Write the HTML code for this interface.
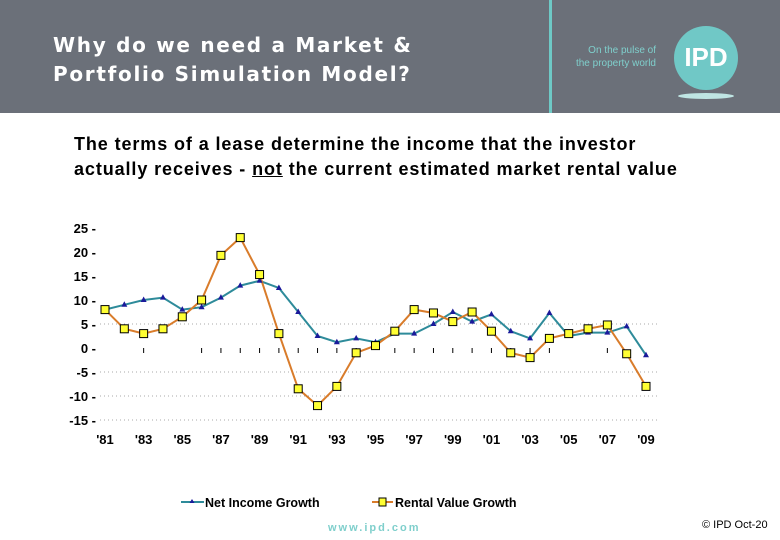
<!DOCTYPE html>
<html><head><meta charset="utf-8"><style>
body{margin:0;width:780px;height:540px;background:#fff;overflow:hidden;position:relative;font-family:"Liberation Sans",sans-serif}
#hdr{position:absolute;left:0;top:0;width:780px;height:113px;background:#6b7079}
#title{position:absolute;left:53px;top:31px;color:#fff;font-weight:bold;font-family:"DejaVu Sans",sans-serif;font-size:20px;line-height:29px;letter-spacing:1.7px;white-space:nowrap}
#vl{position:absolute;left:549px;top:0;width:3px;height:113px;background:#6ec9c6}
#tag{position:absolute;left:550px;top:44px;width:106px;text-align:right;color:#7fcfcc;font-size:10px;line-height:13px}
#logo{position:absolute;left:674px;top:26px;width:64px;height:64px;border-radius:50%;background:#70c8c6;color:#fff;font-weight:bold;font-size:26px;text-align:center;line-height:62px}
#sh{position:absolute;left:678px;top:93px;width:56px;height:6px;border-radius:50%;background:#bfe5e3}
#sub{position:absolute;left:74px;top:132px;font-size:18px;font-weight:bold;letter-spacing:0.9px;line-height:25px;color:#000;white-space:nowrap}
#foot{position:absolute;left:328px;top:522px;font-size:11px;font-weight:bold;color:#7fcfcc;letter-spacing:2px}
#copy{position:absolute;left:702px;top:519px;font-size:11px;color:#000}
svg{position:absolute;left:0;top:0}
</style></head><body>
<div id="hdr"></div>
<div id="title">Why do we need a Market &amp;<br>Portfolio Simulation Model?</div>
<div id="vl"></div>
<div id="tag">On the pulse of<br>the property world</div>
<div id="logo">IPD</div>
<div id="sh"></div>
<div id="sub">The terms of a lease determine the income that the investor<br>actually receives - <u>not</u> the current estimated market rental value</div>
<div id="foot">www.ipd.com</div>
<div id="copy">© IPD Oct-20</div>
<svg id="chart" width="780" height="540"></svg>
<script>
const years=[1981,1982,1983,1984,1985,1986,1987,1988,1989,1990,1991,1992,1993,1994,1995,1996,1997,1998,1999,2000,2001,2002,2003,2004,2005,2006,2007,2008,2009];
const netIncome=[8,9,10,10.5,8,8.5,10.5,13,14,12.5,7.5,2.5,1.2,2,1.2,3,3,5,7.5,5.5,7,3.5,2,7.3,2.5,3.2,3.2,4.5,-1.5];
const rentalValue=[8,4,3,4,6.5,10,19.3,23,15.3,3,-8.5,-12,-8,-1,0.5,3.5,8,7.3,5.5,7.5,3.5,-1,-2,2,3,4,4.8,-1.2,-8];
const yTicks=[25,20,15,10,5,0,-5,-10,-15];
const xLabels=[1981,1983,1985,1987,1989,1991,1993,1995,1997,1999,2001,2003,2005,2007,2009];
const tickYears=[1983,1986,1987,1988,1989,1990,1991,1992,1993,1994,1996,1997,1998,1999,2000,2001,2002,2003,2004,2007];
const NS='http://www.w3.org/2000/svg',svg=document.getElementById('chart');
const X=y=>105+(y-1981)*(646-105)/28, Y=v=>348-v*4.8;
function mk(t,a){const e=document.createElementNS(NS,t);for(const k in a)e.setAttribute(k,a[k]);svg.appendChild(e);return e;}
yTicks.forEach(v=>{
 if(v<=5&&v!==0){const g=mk('line',{x1:100,x2:660,y1:Y(v),y2:Y(v),stroke:'#aaa','stroke-dasharray':'1 3'});}
 const t=mk('text',{x:96,y:Y(v)+5,'text-anchor':'end','font-size':13,'font-weight':'bold',fill:'#000','font-family':'Liberation Sans'});t.textContent=v+'  -';
 
});
tickYears.forEach(y=>{const m=mk('line',{x1:X(y),x2:X(y),y1:Y(0),y2:Y(0)+5,stroke:'#000'});});
xLabels.forEach(y=>{const t=mk('text',{x:X(y),y:444,'text-anchor':'middle','font-size':13,'font-weight':'bold',fill:'#000','font-family':'Liberation Sans'});t.textContent="'"+String(y).slice(2);
 });
const l1=mk('polyline',{points:years.map((y,i)=>X(y)+','+Y(netIncome[i])).join(' '),fill:'none',stroke:'#2e8b9a','stroke-width':2});

const l2=mk('polyline',{points:years.map((y,i)=>X(y)+','+Y(rentalValue[i])).join(' '),fill:'none',stroke:'#d97c2b','stroke-width':2});

years.forEach((y,i)=>{const x=X(y),v=Y(netIncome[i]);
 const p=mk('polygon',{points:`${x},${v-3.5} ${x-3},${v+2} ${x+3},${v+2}`,fill:'#1a1a9a'});
 });
years.forEach((y,i)=>{const x=X(y),v=Y(rentalValue[i]);
 const r=mk('rect',{x:x-4,y:v-4,width:8,height:8,fill:'#ffff33',stroke:'#000','stroke-width':1});
 });
const lg1=mk('line',{x1:181,x2:204,y1:502,y2:502,stroke:'#2e8b9a','stroke-width':2});
const lp=mk('polygon',{points:'192,499 189.5,503 194.5,503',fill:'#1a1a9a'});
const lt1=mk('text',{x:205,y:507,'font-size':12.5,'font-weight':'bold','font-family':'Liberation Sans'});lt1.textContent='Net Income Growth';
const lg2=mk('line',{x1:372,x2:393,y1:502,y2:502,stroke:'#d97c2b','stroke-width':2});
const lr=mk('rect',{x:379,y:498,width:7,height:8,fill:'#ffff33',stroke:'#000'});
const lt2=mk('text',{x:395,y:507,'font-size':12.5,'font-weight':'bold','font-family':'Liberation Sans'});lt2.textContent='Rental Value Growth';
</script>
</body></html>
